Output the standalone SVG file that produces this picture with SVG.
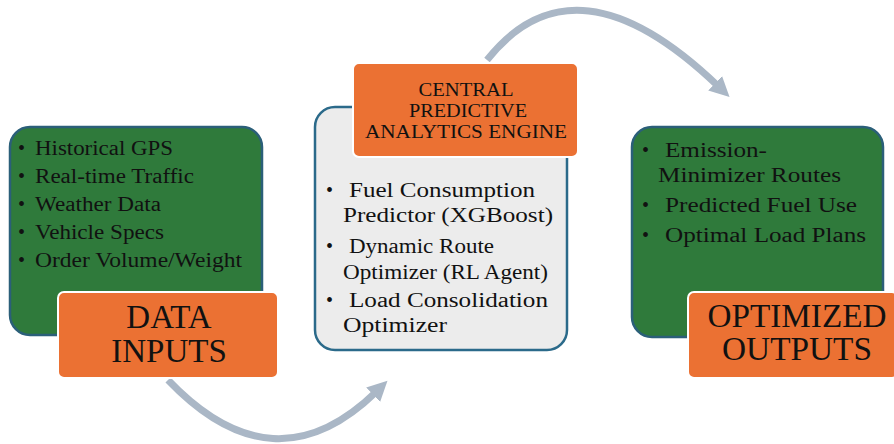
<svg xmlns="http://www.w3.org/2000/svg" width="894" height="444" viewBox="0 0 894 444">
<style>
.green{fill:#2f7a3b;stroke:#2b5f79;stroke-width:2.5}
.grey{fill:#ececec;stroke:#2b6a8a;stroke-width:2.5}
.orange{fill:#eb7133;stroke:#ffffff;stroke-width:2}
text{font-family:"Liberation Serif","Times New Roman",serif;fill:#111}
.item{font-size:20px}
.head{font-size:18px;text-anchor:middle}
.big{font-size:33px;text-anchor:middle}
.conn{fill:none;stroke:#aab7c6;stroke-width:7}
</style>
<defs>
<marker id="ah" markerUnits="userSpaceOnUse" markerWidth="22" markerHeight="22" viewBox="0 0 22 22" refX="4" refY="11" orient="auto">
<path d="M0,1 L20,11 L0,21 Z" fill="#aab7c6"/>
</marker>
</defs>
<rect width="894" height="444" fill="#ffffff"/>
<g id="connectors">
<path class="conn" d="M168,380 Q274,491 376,392" marker-end="url(#ah)"/>
<path class="conn" d="M487,60 Q575,-51 718,86" marker-end="url(#ah)"/>
</g>
<g id="data-inputs">
<rect class="green" x="10" y="127" width="252" height="208" rx="20"/>
<text class="item" x="18" y="155">•</text>
<text class="item" x="35" y="155" textLength="138" lengthAdjust="spacingAndGlyphs">Historical GPS</text>
<text class="item" x="18" y="183">•</text>
<text class="item" x="35" y="183" textLength="159" lengthAdjust="spacingAndGlyphs">Real-time Traffic</text>
<text class="item" x="18" y="211">•</text>
<text class="item" x="35" y="211" textLength="126" lengthAdjust="spacingAndGlyphs">Weather Data</text>
<text class="item" x="18" y="239">•</text>
<text class="item" x="35" y="239" textLength="129" lengthAdjust="spacingAndGlyphs">Vehicle Specs</text>
<text class="item" x="18" y="267">•</text>
<text class="item" x="35" y="267" textLength="207" lengthAdjust="spacingAndGlyphs">Order Volume/Weight</text>
<rect class="orange" x="58" y="292" width="220" height="86" rx="6"/>
<text class="big" x="169" y="328">DATA</text>
<text class="big" x="169" y="362">INPUTS</text>
</g>
<g id="engine">
<rect class="grey" x="315" y="107" width="252" height="243" rx="20"/>
<text class="item" x="326" y="197">•</text>
<text class="item" x="349" y="197" textLength="186" lengthAdjust="spacingAndGlyphs">Fuel Consumption</text>
<text class="item" x="343" y="222" textLength="210" lengthAdjust="spacingAndGlyphs">Predictor (XGBoost)</text>
<text class="item" x="326" y="253">•</text>
<text class="item" x="349" y="253" textLength="145" lengthAdjust="spacingAndGlyphs">Dynamic Route</text>
<text class="item" x="343" y="279" textLength="205" lengthAdjust="spacingAndGlyphs">Optimizer (RL Agent)</text>
<text class="item" x="326" y="307">•</text>
<text class="item" x="349" y="307" textLength="199" lengthAdjust="spacingAndGlyphs">Load Consolidation</text>
<text class="item" x="343" y="332" textLength="104" lengthAdjust="spacingAndGlyphs">Optimizer</text>
<rect class="orange" x="353" y="63" width="225" height="94" rx="6"/>
<text class="head" x="466" y="96" textLength="95" lengthAdjust="spacingAndGlyphs">CENTRAL</text>
<text class="head" x="468" y="117" textLength="118" lengthAdjust="spacingAndGlyphs">PREDICTIVE</text>
<text class="head" x="466" y="138" textLength="202" lengthAdjust="spacingAndGlyphs">ANALYTICS ENGINE</text>
</g>
<g id="outputs">
<rect class="green" x="632" y="127" width="251" height="210" rx="20"/>
<text class="item" x="642" y="157">•</text>
<text class="item" x="665" y="157" textLength="102" lengthAdjust="spacingAndGlyphs">Emission-</text>
<text class="item" x="658" y="182" textLength="183" lengthAdjust="spacingAndGlyphs">Minimizer Routes</text>
<text class="item" x="642" y="212">•</text>
<text class="item" x="665" y="212" textLength="192" lengthAdjust="spacingAndGlyphs">Predicted Fuel Use</text>
<text class="item" x="642" y="242">•</text>
<text class="item" x="665" y="242" textLength="201" lengthAdjust="spacingAndGlyphs">Optimal Load Plans</text>
<rect class="orange" x="688" y="292" width="210" height="86" rx="6"/>
<text class="big" x="797" y="327" textLength="179" lengthAdjust="spacingAndGlyphs">OPTIMIZED</text>
<text class="big" x="797" y="360" textLength="150" lengthAdjust="spacingAndGlyphs">OUTPUTS</text>
</g>
</svg>
